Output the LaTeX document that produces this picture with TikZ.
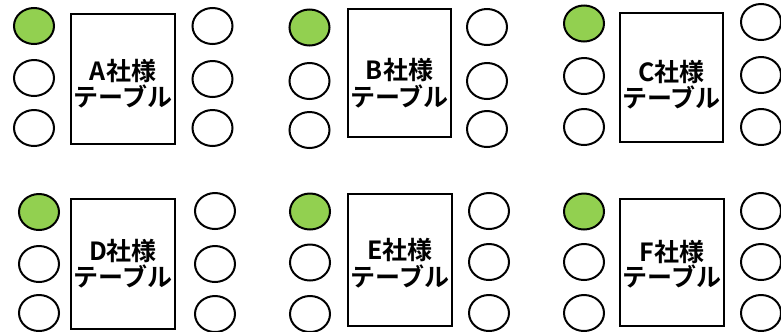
\documentclass[tikz,border=0pt]{standalone}
\usepackage{fontspec}
\newfontfamily\cjk{Noto Sans CJK JP}[BoldFont=* Bold]
\usetikzlibrary{shapes.geometric}
\definecolor{seatgreen}{HTML}{92D050}
\begin{document}
\begin{tikzpicture}[x=1bp,y=-1bp,
  seat/.style={ellipse,draw=black,line width=2bp,minimum width=40bp,minimum height=36bp,inner sep=0pt,fill=white},
  chair/.style={seat,fill=seatgreen},
  tablebox/.style={draw=black,line width=2bp,fill=white},
  lbl/.style={font=\cjk\bfseries\fontsize{25bp}{28bp}\selectfont,inner sep=0pt,anchor=center}]
\useasboundingbox (0,0) rectangle (781,331);
\foreach \n/\xa/\ya/\xb/\yb/\lx/\la/\lb/\lc/\rx/\ra/\rb/\rc/\ta/\tb in {
  A/70/13/176/145/34/26/78/128/212.5/26/79/128/71/96,
  B/347/8/452/138/309.5/27.5/81/130/487/27/81/129/70/96,
  C/619/12/724/143/584/23.5/76/127/761/22/75/127/72/97,
  D/70/198/176/330/39/212/264/313/215/211/264/314/251/276,
  E/347/193/453/327/310/211.5/262.5/314/489/211/262/313/250/276,
  F/619/198/725/327/584/211.5/262/313/761/211/262/313/252/276}{
  \node[tablebox,minimum width={\xb-\xa-2},minimum height={\yb-\ya-2},inner sep=0pt] (\n-table) at ({(\xa+\xb)/2},{(\ya+\yb)/2}) {};
  \node[chair] (\n-l1) at (\lx,\la) {};
  \node[seat] (\n-l2) at (\lx,\lb) {};
  \node[seat] (\n-l3) at (\lx,\lc) {};
  \node[seat] (\n-r1) at (\rx,\ra) {};
  \node[seat] (\n-r2) at (\rx,\rb) {};
  \node[seat] (\n-r3) at (\rx,\rc) {};
  \node[lbl] (\n-name) at ({(\xa+\xb)/2},\ta) {{\n}社様};
  \node[lbl] (\n-sub) at ({(\xa+\xb)/2},\tb) {テーブル};
}
\end{tikzpicture}
\end{document}
